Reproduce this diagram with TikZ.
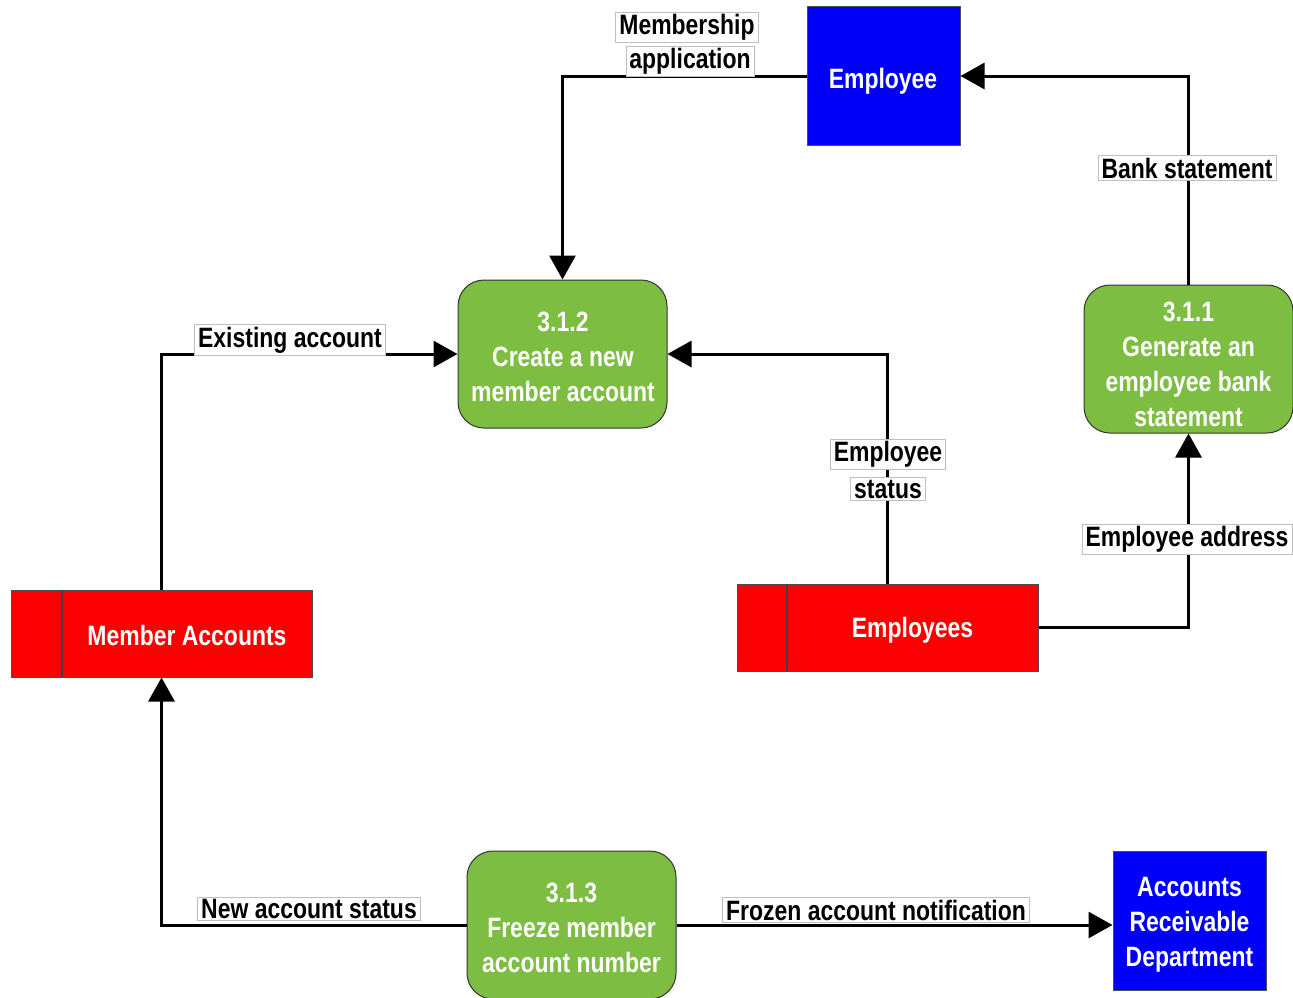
\documentclass[tikz,border=0pt]{standalone}
\usepackage{fontspec}
\setmainfont[FakeStretch=0.82]{Liberation Sans}
\usetikzlibrary{arrows.meta}
\definecolor{procgreen}{RGB}{124,189,66}
\definecolor{extblue}{RGB}{0,0,250}
\definecolor{storered}{RGB}{250,0,0}
\tikzset{
  process/.style={draw=black!80, line width=1pt, fill=procgreen, rounded corners=26pt,
    minimum width=209pt, minimum height=148pt},
  entity/.style={draw=black!70, line width=1pt, fill=extblue, minimum width=153pt,
    minimum height=139pt},
  datastore/.style={draw=black!70, line width=1pt, fill=storered, minimum width=301pt,
    minimum height=87pt},
  divider/.style={draw=black!75, line width=1.4pt},
  boxtext/.style={text=white, align=center, inner sep=0pt,
    font=\fontsize{28}{35}\selectfont\bfseries},
  flow/.style={line width=3pt, -{Triangle[length=24pt,width=26pt]}},
  flowlabel/.style={draw=black!25, line width=0.8pt, fill=white, inner xsep=3.5pt,
    inner ysep=2pt, font=\fontsize{28}{32}\selectfont\bfseries, text=black}
}
\begin{document}
\begin{tikzpicture}[x=1pt,y=-1pt]
\useasboundingbox (0,0) rectangle (1293,997);
\begin{scope}
\clip (0,0) rectangle (1293,997);

% external entities
\node[entity] (emp) at (883.5,76) {};
\node[boxtext] (empt) at (883,81) {Employee};
\node[entity] (ard) at (1189.5,921) {};
\node[boxtext] (ardt) at (1189.5,925) {Accounts\\Receivable\\Department};

% processes
\node[process] (p312) at (562.5,354) {};
\node[boxtext] (p312t) at (563,357) {3.1.2\\Create a new\\member account};
\node[process] (p311) at (1188.5,359) {};
\node[boxtext] (p311t) at (1188.5,364) {3.1.1\\Generate an\\employee bank\\statement};
\node[process] (p313) at (571.5,925) {};
\node[boxtext] (p313t) at (571.5,928) {3.1.3\\Freeze member\\account number};

% data stores
\node[datastore] (ma) at (161.5,633.5) {};
\draw[divider] (62,590.5) -- (62,676.5);
\node[boxtext] (mat) at (187,635) {Member Accounts};
\node[datastore] (emps) at (887.5,627.5) {};
\draw[divider] (787,584.5) -- (787,670.5);
\node[boxtext] (empst) at (912.5,630) {Employees};

% data flows
\draw[flow] (emp.west) -| (p312.north);
\draw[flow] (p311.north) |- (emp.east);
\draw[flow] (ma.north) |- (p312.west);
\draw[flow] (emps.north) |- (p312.east);
\draw[flow] (emps.east) -| (p311.south);
\draw[flow] (p313.west) -| (ma.south);
\draw[flow] (p313.east) -- (p313.east -| ard.west);

% flow labels
\node[flowlabel] (l1a) at (687,27) {Membership};
\node[flowlabel] (l1b) at (690,61) {application};
\node[flowlabel] (l2) at (1187,168) {Bank statement};
\node[flowlabel] (l3) at (290,340) {Existing account};
\node[flowlabel] (l4a) at (888,454) {Employee};
\node[flowlabel] (l4b) at (888,489) {status};
\node[flowlabel] (l5) at (1187,539) {Employee address};
\node[flowlabel] (l6) at (309,909) {New account status};
\node[flowlabel] (l7) at (876,910) {Frozen account notification};
\end{scope}
\end{tikzpicture}
\end{document}
